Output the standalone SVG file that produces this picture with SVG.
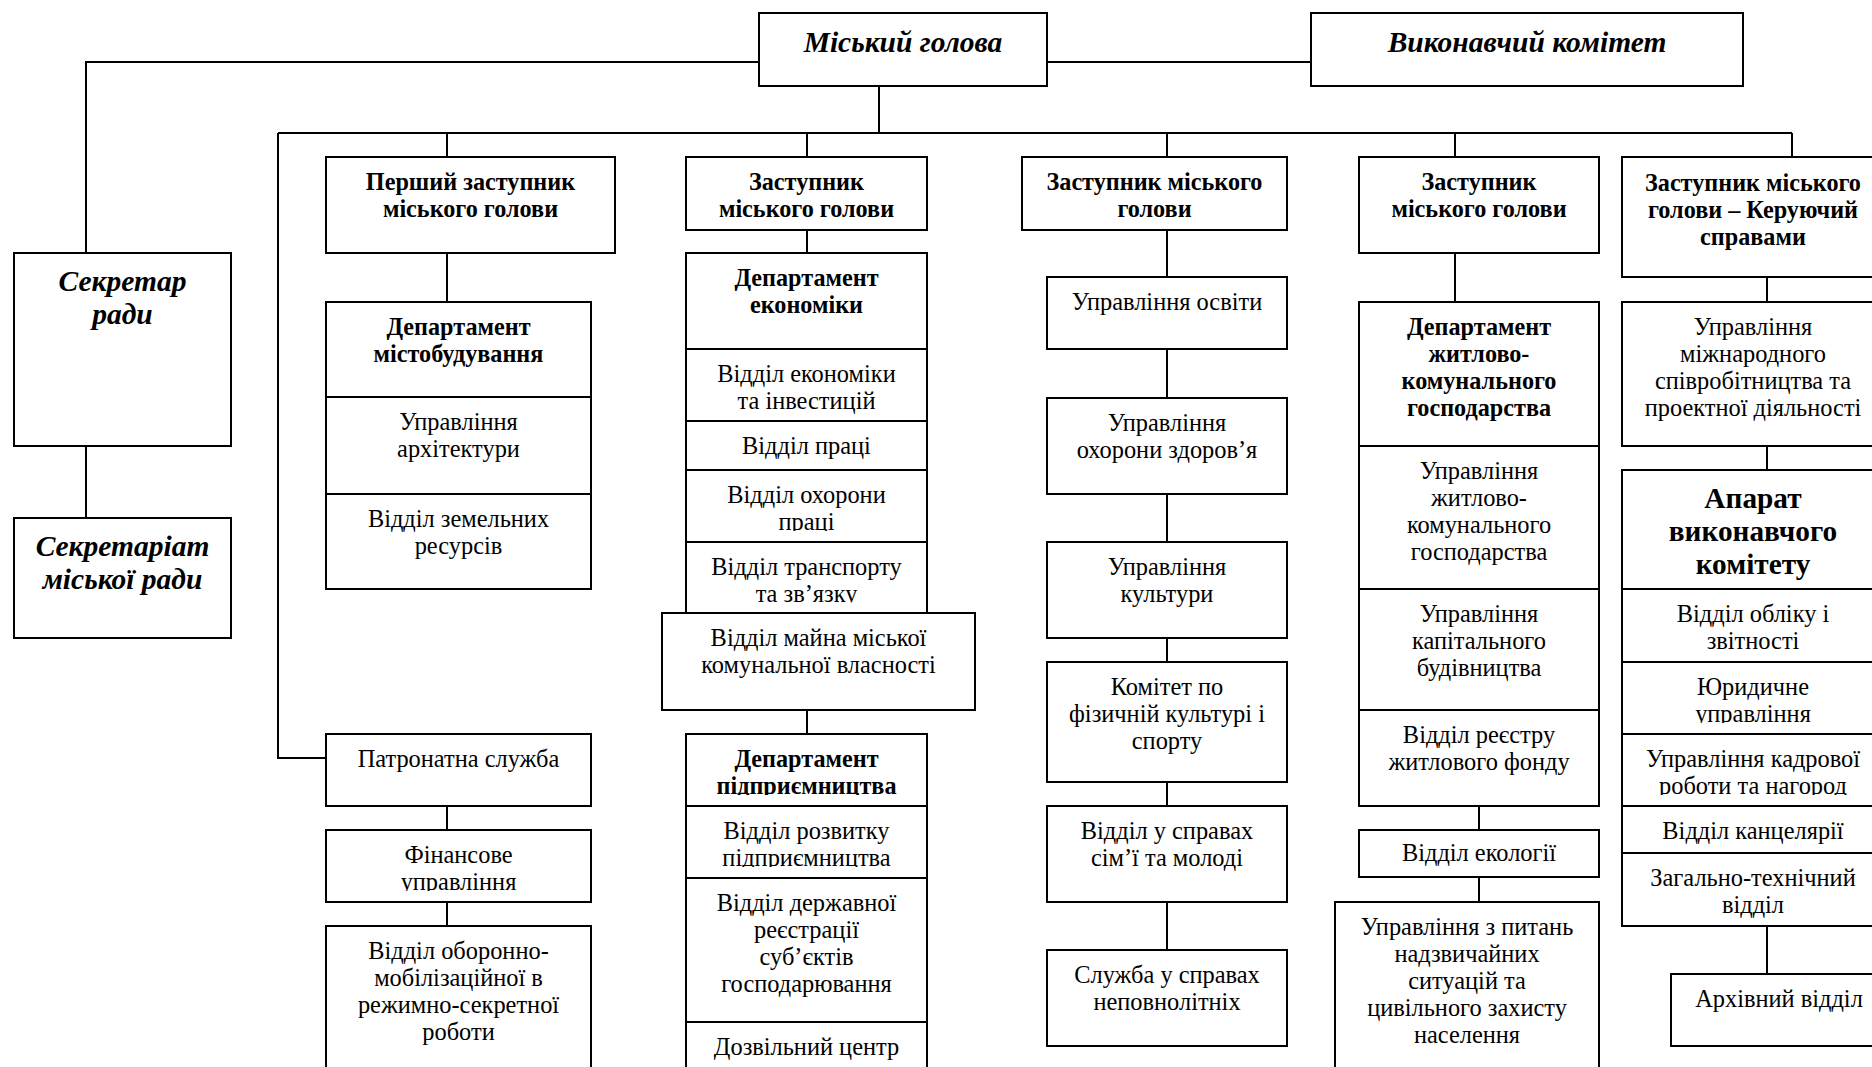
<svg xmlns="http://www.w3.org/2000/svg" width="1872" height="1067" viewBox="0 0 1872 1067">
<style>
.box{fill:#fff;stroke:#000;stroke-width:2}
.ln{fill:none;stroke:#000;stroke-width:2}
.m{fill:#fff;stroke:none}
text{font-family:"Liberation Serif","Times New Roman",serif;font-size:24.4px;text-anchor:middle;fill:#000}
.b{font-weight:bold;font-size:24.2px}
.bi{font-weight:bold;font-style:italic;font-size:29.5px}
.big{font-weight:bold;font-size:29.3px}
</style>
<rect width="1872" height="1067" fill="#fff"/>
<g id="connectors">
<path class="ln" d="M759 62H86V253"/>
<path class="ln" d="M1047 62H1311"/>
<path class="ln" d="M879 86V133"/>
<path class="ln" d="M278 133H1792"/>
<path class="ln" d="M278 133V758H326"/>
<path class="ln" d="M447 133V157M807 133V157M1167 133V157M1455 133V157M1792 133V157"/>
<path class="ln" d="M86 446V518"/>
<path class="ln" d="M447 253V302M447 806V830M447 902V926"/>
<path class="ln" d="M807 230V253M807 710V734"/>
<path class="ln" d="M1167 230V277M1167 349V398M1167 494V542M1167 638V662M1167 782V806M1167 902V950"/>
<path class="ln" d="M1455 253V302M1479 806V830M1479 877V902"/>
<path class="ln" d="M1767 277V302M1767 446V470M1767 926V974"/>
</g>
<g id="mayor"><rect class="box" x="759" y="13" width="288" height="73"/><text class="bi" x="903" y="52">Міський голова</text></g>
<g id="vykonkom"><rect class="box" x="1311" y="13" width="432" height="73"/><text class="bi" x="1527" y="52">Виконавчий комітет</text></g>
<g id="sekretar"><rect class="box" x="14" y="253" width="217" height="193"/><text class="bi" x="122.5" y="291">Секретар</text><text class="bi" x="122.5" y="324">ради</text></g>
<g id="sekretariat"><rect class="box" x="14" y="518" width="217" height="120"/><text class="bi" x="122.5" y="556">Секретаріат</text><text class="bi" x="122.5" y="589">міської ради</text></g>

<g id="zast1"><rect class="box" x="326" y="157" width="289" height="96"/><text class="b" x="470.5" y="190">Перший заступник</text><text class="b" x="470.5" y="217">міського голови</text></g>
<g id="dep-mistobud"><rect class="box" x="326" y="302" width="265" height="95"/><text class="b" x="458.5" y="335">Департамент</text><text class="b" x="458.5" y="362">містобудування</text></g>
<g id="upr-arh"><rect class="box" x="326" y="397" width="265" height="97"/><text x="458.5" y="430">Управління</text><text x="458.5" y="457">архітектури</text></g>
<g id="vid-zemel"><rect class="box" x="326" y="494" width="265" height="95"/><text x="458.5" y="527">Відділ земельних</text><text x="458.5" y="554">ресурсів</text></g>
<g id="patronat"><rect class="box" x="326" y="734" width="265" height="72"/><text x="458.5" y="767">Патронатна служба</text></g>
<g id="finans"><rect class="box" x="326" y="830" width="265" height="72"/><text x="458.5" y="863">Фінансове</text><text x="458.5" y="890">управління</text><rect class="m" x="327.5" y="891" width="262" height="9.5"/></g>
<g id="oboron"><rect class="box" x="326" y="926" width="265" height="160"/><text x="458.5" y="959">Відділ оборонно-</text><text x="458.5" y="986">мобілізаційної в</text><text x="458.5" y="1013">режимно-секретної</text><text x="458.5" y="1040">роботи</text></g>

<g id="zast2"><rect class="box" x="686" y="157" width="241" height="73"/><text class="b" x="806.5" y="190">Заступник</text><text class="b" x="806.5" y="217">міського голови</text></g>
<g id="dep-econ"><rect class="box" x="686" y="253" width="241" height="96"/><text class="b" x="806.5" y="286">Департамент</text><text class="b" x="806.5" y="313">економіки</text></g>
<g id="vid-econ-inv"><rect class="box" x="686" y="349" width="241" height="72"/><text x="806.5" y="382">Відділ економіки</text><text x="806.5" y="409">та інвестицій</text></g>
<g id="vid-pratsi"><rect class="box" x="686" y="421" width="241" height="49"/><text x="806.5" y="454">Відділ праці</text></g>
<g id="vid-ohor-pratsi"><rect class="box" x="686" y="470" width="241" height="72"/><text x="806.5" y="503">Відділ охорони</text><text x="806.5" y="530">праці</text><rect class="m" x="687.5" y="531" width="238" height="9.5"/></g>
<g id="vid-transport"><rect class="box" x="686" y="542" width="241" height="71"/><text x="806.5" y="575">Відділ транспорту</text><text x="806.5" y="602">та зв’язку</text><rect class="m" x="687.5" y="602.5" width="238" height="9"/></g>
<g id="vid-mayna"><rect class="box" x="662" y="613" width="313" height="97"/><text x="818.5" y="646">Відділ майна міської</text><text x="818.5" y="673">комунальної власності</text></g>
<g id="dep-pidpr"><rect class="box" x="686" y="734" width="241" height="72"/><text class="b" x="806.5" y="767">Департамент</text><text class="b" x="806.5" y="794">підприємництва</text><rect class="m" x="687.5" y="795" width="238" height="9.5"/></g>
<g id="vid-rozvytku"><rect class="box" x="686" y="806" width="241" height="72"/><text x="806.5" y="839">Відділ розвитку</text><text x="806.5" y="866">підприємництва</text><rect class="m" x="687.5" y="867" width="238" height="9.5"/></g>
<g id="vid-derzh-reestr"><rect class="box" x="686" y="878" width="241" height="144"/><text x="806.5" y="911">Відділ державної</text><text x="806.5" y="938">реєстрації</text><text x="806.5" y="965">суб’єктів</text><text x="806.5" y="992">господарювання</text></g>
<g id="dozvil-tsentr"><rect class="box" x="686" y="1022" width="241" height="64"/><text x="806.5" y="1055">Дозвільний центр</text></g>

<g id="zast3"><rect class="box" x="1022" y="157" width="265" height="73"/><text class="b" x="1154.5" y="190">Заступник міського</text><text class="b" x="1154.5" y="217">голови</text></g>
<g id="upr-osvity"><rect class="box" x="1047" y="277" width="240" height="72"/><text x="1167" y="310">Управління освіти</text></g>
<g id="upr-ohor-zdorov"><rect class="box" x="1047" y="398" width="240" height="96"/><text x="1167" y="431">Управління</text><text x="1167" y="458">охорони здоров’я</text></g>
<g id="upr-kultury"><rect class="box" x="1047" y="542" width="240" height="96"/><text x="1167" y="575">Управління</text><text x="1167" y="602">культури</text></g>
<g id="komitet-sport"><rect class="box" x="1047" y="662" width="240" height="120"/><text x="1167" y="695">Комітет по</text><text x="1167" y="722">фізичній культурі і</text><text x="1167" y="749">спорту</text></g>
<g id="vid-simyi"><rect class="box" x="1047" y="806" width="240" height="96"/><text x="1167" y="839">Відділ у справах</text><text x="1167" y="866">сім’ї та молоді</text></g>
<g id="sluzhba-nepovn"><rect class="box" x="1047" y="950" width="240" height="96"/><text x="1167" y="983">Служба у справах</text><text x="1167" y="1010">неповнолітніх</text></g>

<g id="zast4"><rect class="box" x="1359" y="157" width="240" height="96"/><text class="b" x="1479" y="190">Заступник</text><text class="b" x="1479" y="217">міського голови</text></g>
<g id="dep-zhkg"><rect class="box" x="1359" y="302" width="240" height="144"/><text class="b" x="1479" y="335">Департамент</text><text class="b" x="1479" y="362">житлово-</text><text class="b" x="1479" y="389">комунального</text><text class="b" x="1479" y="416">господарства</text></g>
<g id="upr-zhkg"><rect class="box" x="1359" y="446" width="240" height="143"/><text x="1479" y="479">Управління</text><text x="1479" y="506">житлово-</text><text x="1479" y="533">комунального</text><text x="1479" y="560">господарства</text></g>
<g id="upr-kapbud"><rect class="box" x="1359" y="589" width="240" height="121"/><text x="1479" y="622">Управління</text><text x="1479" y="649">капітального</text><text x="1479" y="676">будівництва</text></g>
<g id="vid-reestru"><rect class="box" x="1359" y="710" width="240" height="96"/><text x="1479" y="743">Відділ реєстру</text><text x="1479" y="770">житлового фонду</text></g>
<g id="vid-ekologii"><rect class="box" x="1359" y="830" width="240" height="47"/><text x="1479" y="861">Відділ екології</text></g>
<g id="upr-ns"><rect class="box" x="1335" y="902" width="264" height="184"/><text x="1467" y="935">Управління з питань</text><text x="1467" y="962">надзвичайних</text><text x="1467" y="989">ситуацій та</text><text x="1467" y="1016">цивільного захисту</text><text x="1467" y="1043">населення</text></g>

<g id="zast5"><rect class="box" x="1622" y="157" width="258" height="120"/><text class="b" x="1753" y="191">Заступник міського</text><text class="b" x="1753" y="218">голови – Керуючий</text><text class="b" x="1753" y="245">справами</text></g>
<g id="upr-mizhnar"><rect class="box" x="1622" y="302" width="258" height="144"/><text x="1753" y="335">Управління</text><text x="1753" y="362">міжнародного</text><text x="1753" y="389">співробітництва та</text><text x="1753" y="416">проектної діяльності</text></g>
<g id="aparat"><rect class="box" x="1622" y="470" width="258" height="119"/><text class="big" x="1753" y="508">Апарат</text><text class="big" x="1753" y="541">виконавчого</text><text class="big" x="1753" y="574">комітету</text></g>
<g id="vid-obliku"><rect class="box" x="1622" y="589" width="258" height="73"/><text x="1753" y="622">Відділ обліку і</text><text x="1753" y="649">звітності</text></g>
<g id="yuryd-upr"><rect class="box" x="1622" y="662" width="258" height="72"/><text x="1753" y="695">Юридичне</text><text x="1753" y="722">управління</text><rect class="m" x="1623.5" y="723" width="255" height="9.5"/></g>
<g id="upr-kadr"><rect class="box" x="1622" y="734" width="258" height="72"/><text x="1753" y="767">Управління кадрової</text><text x="1753" y="794">роботи та нагород</text><rect class="m" x="1623.5" y="795" width="255" height="9.5"/></g>
<g id="vid-kantselyarii"><rect class="box" x="1622" y="806" width="258" height="47"/><text x="1753" y="839">Відділ канцелярії</text></g>
<g id="zag-tehn"><rect class="box" x="1622" y="853" width="258" height="73"/><text x="1753" y="886">Загально-технічний</text><text x="1753" y="913">відділ</text></g>
<g id="arhiv"><rect class="box" x="1671" y="974" width="210" height="72"/><text x="1779" y="1007">Архівний відділ</text></g>
</svg>
